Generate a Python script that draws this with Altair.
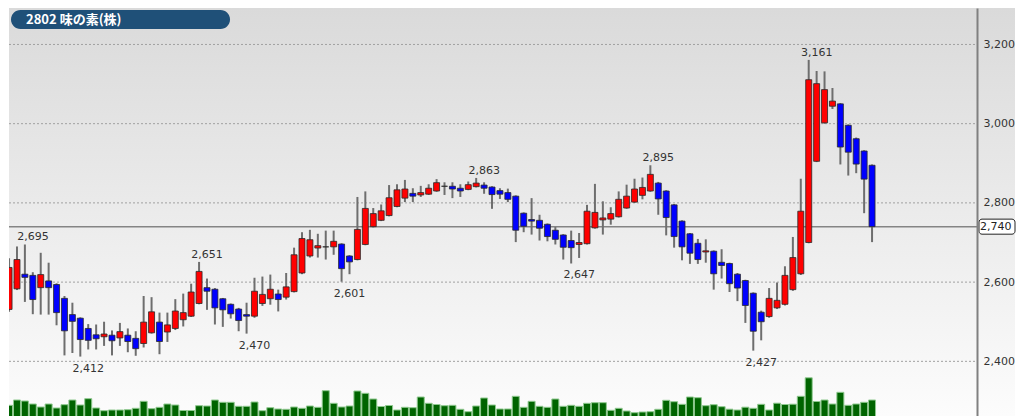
import altair as alt
import pandas as pd

title_text = "2802 味の素(株)"

opens = [2531, 2583, 2620, 2617, 2586, 2603, 2594, 2559, 2518, 2509,
         2483, 2467, 2462, 2466, 2459, 2466, 2458, 2445, 2472, 2499,
         2474, 2483, 2505, 2514, 2546, 2586, 2582, 2558, 2544, 2532,
         2518, 2514, 2546, 2558, 2570, 2562, 2576, 2623, 2666, 2686,
         2689, 2689, 2696, 2666, 2657, 2695, 2740, 2756, 2768, 2791,
         2812, 2824, 2820, 2822, 2830, 2842, 2842, 2837, 2834, 2841,
         2845, 2840, 2831, 2826, 2817, 2774, 2758, 2756, 2746, 2731,
         2719, 2705, 2695, 2697, 2737, 2757, 2759, 2765, 2787, 2802,
         2819, 2830, 2850, 2830, 2795, 2754, 2722, 2698, 2676, 2678,
         2650, 2647, 2620, 2604, 2572, 2524, 2513, 2535, 2544, 2581,
         2621, 2700, 2905, 3002, 3044, 3050, 2996, 2962, 2931, 2895]
highs = [2660, 2690, 2695, 2625, 2674, 2649, 2597, 2565, 2548, 2511,
         2494, 2493, 2500, 2478, 2497, 2483, 2476, 2565, 2562, 2523,
         2523, 2557, 2571, 2596, 2651, 2609, 2585, 2560, 2546, 2535,
         2548, 2611, 2614, 2619, 2581, 2623, 2687, 2726, 2732, 2722,
         2730, 2730, 2698, 2668, 2815, 2829, 2787, 2796, 2845, 2847,
         2858, 2837, 2843, 2847, 2860, 2852, 2852, 2847, 2854, 2863,
         2852, 2842, 2837, 2836, 2819, 2776, 2812, 2770, 2748, 2739,
         2721, 2730, 2724, 2795, 2848, 2804, 2789, 2829, 2846, 2861,
         2864, 2895, 2853, 2832, 2797, 2756, 2724, 2709, 2708, 2680,
         2683, 2649, 2623, 2606, 2574, 2528, 2585, 2599, 2640, 2714,
         2861, 3161, 3133, 3132, 3090, 3052, 2998, 2965, 2933, 2897]
lows = [2525, 2580, 2550, 2519, 2518, 2518, 2491, 2415, 2421, 2412,
        2430, 2430, 2439, 2415, 2439, 2423, 2414, 2435, 2470, 2418,
        2449, 2479, 2488, 2512, 2544, 2530, 2493, 2487, 2508, 2476,
        2470, 2510, 2540, 2543, 2526, 2556, 2574, 2620, 2662, 2662,
        2657, 2669, 2601, 2620, 2655, 2693, 2738, 2754, 2766, 2789,
        2802, 2802, 2815, 2820, 2828, 2820, 2812, 2815, 2832, 2839,
        2823, 2785, 2810, 2802, 2701, 2726, 2720, 2705, 2703, 2695,
        2657, 2647, 2661, 2695, 2735, 2720, 2745, 2763, 2785, 2800,
        2809, 2828, 2770, 2718, 2687, 2655, 2646, 2646, 2649, 2581,
        2609, 2575, 2552, 2497, 2427, 2453, 2510, 2532, 2541, 2578,
        2618, 2698, 2903, 3000, 3037, 2897, 2869, 2875, 2774, 2701]
closes = [2637, 2657, 2612, 2556, 2619, 2586, 2523, 2477, 2501, 2455,
          2453, 2457, 2469, 2452, 2475, 2450, 2432, 2499, 2525, 2450,
          2492, 2527, 2523, 2575, 2627, 2577, 2535, 2530, 2520, 2503,
          2514, 2577, 2569, 2582, 2556, 2588, 2669, 2710, 2707, 2692,
          2689, 2703, 2634, 2651, 2733, 2786, 2773, 2780, 2813, 2833,
          2835, 2817, 2826, 2837, 2851, 2842, 2835, 2830, 2846, 2850,
          2837, 2821, 2822, 2809, 2731, 2741, 2754, 2736, 2715, 2708,
          2688, 2687, 2700, 2779, 2776, 2762, 2773, 2809, 2817, 2835,
          2839, 2872, 2810, 2763, 2715, 2689, 2673, 2657, 2679, 2621,
          2642, 2596, 2585, 2541, 2476, 2500, 2559, 2554, 2617, 2662,
          2779, 3111, 3101, 3086, 3057, 2941, 2928, 2898, 2860, 2740]
volumes = [24.7, 30.0, 29.0, 26.0, 23.0, 26.0, 22.0, 25.3, 30.0, 25.0,
           31.3, 22.0, 19.3, 20.0, 20.0, 20.3, 21.7, 28.7, 21.3, 22.7,
           26.0, 25.0, 19.5, 19.5, 24.3, 24.0, 30.0, 27.7, 27.7, 23.7,
           23.7, 28.0, 19.3, 22.3, 21.0, 20.7, 23.0, 21.7, 24.0, 22.7,
           39.3, 26.7, 23.0, 24.0, 39.0, 36.7, 31.0, 23.5, 24.5, 20.0,
           22.7, 22.3, 33.0, 26.7, 25.5, 24.3, 24.7, 20.7, 18.3, 24.0,
           32.0, 25.0, 21.0, 21.0, 33.7, 22.7, 28.7, 23.7, 22.7, 31.0,
           23.7, 24.7, 23.7, 26.7, 27.3, 27.3, 19.7, 21.7, 19.0, 17.3,
           18.0, 18.3, 20.7, 29.7, 28.3, 25.7, 33.0, 32.3, 24.3, 25.3,
           23.3, 20.8, 20.0, 22.8, 21.7, 25.7, 20.0, 26.8, 25.5, 25.8,
           33.7, 52.2, 28.5, 30.0, 26.0, 37.7, 24.7, 26.0, 27.7, 30.0]

label_idx = [2, 9, 24, 30, 42, 59, 71, 81, 94, 101]
label_kind = ["hi", "lo", "hi", "lo", "lo", "hi", "lo", "hi", "lo", "hi"]
grid_values = [2400, 2600, 2800, 3000, 3200]
last_price = closes[-1]

W = 968
H = 408

n = len(opens)
df = pd.DataFrame({"i": list(range(n)), "open": opens, "high": highs,
                   "low": lows, "close": closes, "vol": volumes})
df["dir"] = ["up" if c >= o else "down" for o, c in zip(opens, closes)]

lab = pd.DataFrame({
    "i": label_idx,
    "kind": label_kind,
    "price": [highs[i] if k == "hi" else lows[i] for i, k in zip(label_idx, label_kind)],
})
lab_hi = lab[lab["kind"] == "hi"]
lab_lo = lab[lab["kind"] == "lo"]

xs = alt.Scale(domain=[0.625, 0.625 + W / 8], nice=False, zero=False)
ps = alt.Scale(domain=[2262, 3292], nice=False, zero=False)
X = alt.X("i:Q", scale=xs, axis=None)

one = pd.DataFrame({"a": [0]})

grad = alt.Gradient(
    gradient="linear",
    stops=[alt.GradientStop(color="#dadada", offset=0),
           alt.GradientStop(color="#fcfcfc", offset=1)],
    x1=0, x2=0, y1=0, y2=1,
)
bg = alt.Chart(one).mark_rect(fill=grad).encode(
    x=alt.value(0), x2=alt.value(1006), y=alt.value(0), y2=alt.value(H))

grid = alt.Chart(pd.DataFrame({"g": grid_values})).mark_rule(
    color="#a0a0a0", strokeDash=[2, 2], strokeWidth=1).encode(
    y=alt.Y("g:Q", scale=ps, axis=None), x=alt.value(0), x2=alt.value(W))

lp = pd.DataFrame({"p": [last_price]})
last_rule = alt.Chart(lp).mark_rule(color="#848484", strokeWidth=1.5).encode(
    y=alt.Y("p:Q", scale=ps, axis=None), x=alt.value(0), x2=alt.value(W))

vol = alt.Chart(df).mark_bar(size=7, fill="#006400", stroke="#8fc98f",
                             strokeWidth=1, clip=True).encode(
    x=X, y=alt.Y("vol:Q", scale=alt.Scale(domain=[0, 100], range=[422, 322]), axis=None))

wick = alt.Chart(df).mark_rule(color="#6e6e6e", strokeWidth=2, clip=True).encode(
    x=X, y=alt.Y("low:Q", scale=ps, axis=None), y2="high:Q")

axis_cfg = alt.Axis(orient="right", values=grid_values, format=",d", grid=False,
                    ticks=False, domainColor="#808080", domainWidth=2,
                    labelColor="#333333", labelFont="DejaVu Sans", labelFontSize=11,
                    labelPadding=6, title=None, zindex=1)
body = alt.Chart(df).mark_bar(size=6, stroke="#2a2a2a", strokeWidth=0.8, clip=True).encode(
    x=X, y=alt.Y("open:Q", scale=ps, axis=axis_cfg), y2="close:Q",
    fill=alt.Fill("dir:N", scale=alt.Scale(domain=["up", "down"],
                                          range=["#ff0000", "#0000ff"]), legend=None))

txt_style = dict(font="DejaVu Sans", fontSize=11, color="#333333", align="center", dx=8)
hi_txt = alt.Chart(lab_hi).mark_text(baseline="alphabetic", dy=-4, **txt_style).encode(
    x=X, y=alt.Y("price:Q", scale=ps, axis=None), text=alt.Text("price:Q", format=",d"))
lo_txt = alt.Chart(lab_lo).mark_text(baseline="alphabetic", dy=15, **txt_style).encode(
    x=X, y=alt.Y("price:Q", scale=ps, axis=None), text=alt.Text("price:Q", format=",d"))

box = alt.Chart(lp).transform_calculate(
    lo="datum.p - 19", hi="datum.p + 19").mark_rect(
    fill="white", stroke="#222222", strokeWidth=1, cornerRadius=3).encode(
    x=alt.value(970), x2=alt.value(1006),
    y=alt.Y("lo:Q", scale=ps, axis=None), y2="hi:Q")
box_txt = alt.Chart(lp).mark_text(align="left", baseline="middle", font="DejaVu Sans",
                                   fontSize=11, color="#222222").encode(
    x=alt.value(971), y=alt.Y("p:Q", scale=ps, axis=None),
    text=alt.Text("p:Q", format=",d"))

badge = alt.Chart(one).mark_rect(fill="#1f5078", cornerRadius=9.5).encode(
    x=alt.value(2), x2=alt.value(221), y=alt.value(2), y2=alt.value(21))
badge_txt = alt.Chart(pd.DataFrame({"t": [title_text]})).mark_text(
    align="left", baseline="middle", color="white", font="Noto Sans CJK JP",
    fontSize=13, fontWeight="bold").encode(
    x=alt.value(17), y=alt.value(11.5), text="t:N")

chart = alt.layer(
    bg, grid, last_rule, vol, wick, body, hi_txt, lo_txt, box, box_txt, badge, badge_txt
).resolve_scale(y="independent").properties(
    width=W, height=H, padding=0, background="white"
).configure_view(stroke=None)

chart.save("out.html", embed_options={"renderer": "svg", "actions": False})
